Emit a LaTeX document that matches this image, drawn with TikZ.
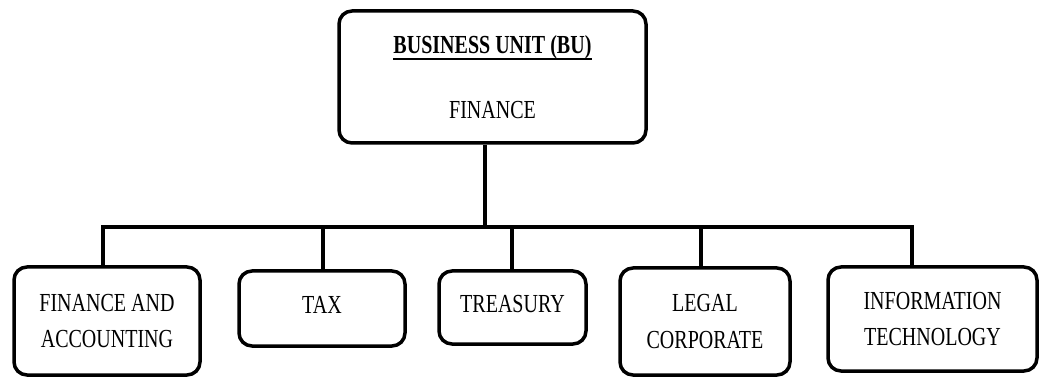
\documentclass[tikz,border=0pt]{standalone}
\usepackage{fontspec}
\setmainfont{Liberation Serif}[FakeStretch=0.77]
\usetikzlibrary{positioning}

\newcommand\unittitle[1]{\setbox0\hbox{#1}\rlap{\rule[-7pt]{\wd0}{2pt}}\box0}

\begin{document}
\begin{tikzpicture}[%
    x=1pt,
    y=-1pt,
    unit/.style={%
      draw,
      line width=3.5pt,
      rounded corners=13pt,
      align=center,
      inner sep=0pt,
      font=\fontsize{26}{36.5}\selectfont,
    },
    oneline/.style={text depth=8pt},
    link/.style={line width=3.5pt},
  ]
  \useasboundingbox (0,0) rectangle (1041,379);

  % head of the unit
  \node [unit, minimum width=307pt, minimum height=132pt] (bu) at (492.5,77)
    {\unittitle{\textbf{BUSINESS UNIT (BU)}}\\[28.5pt]FINANCE};

  % departments
  \node [unit, minimum width=186pt, minimum height=108pt] (accounting) at (107,321)
    {FINANCE AND\\ACCOUNTING};
  \node [unit, oneline, minimum width=166pt, minimum height=75pt] (tax) at (322,308.5)
    {TAX};
  \node [unit, oneline, minimum width=147pt, minimum height=73pt] (treasury) at (512.5,307.5)
    {TREASURY};
  \node [unit, minimum width=170pt, minimum height=107pt] (legal) at (705,321.5)
    {LEGAL\\CORPORATE};
  \node [unit, minimum width=209pt, minimum height=104pt] (it) at (932.5,319)
    {INFORMATION\\TECHNOLOGY};

  % tree lines
  \coordinate (hub) at (485,227);
  \coordinate (drop accounting) at (103,227);
  \coordinate (drop tax) at (323,227);
  \coordinate (drop treasury) at (512,227);
  \coordinate (drop legal) at (701,227);
  \coordinate (drop it) at (912,227);

  \draw [link] (bu.south -| hub) -- (hub);
  \draw [link] (accounting.north -| drop accounting) -- (drop accounting)
    -- (drop it) -- (it.north -| drop it);
  \foreach \dept in {tax,treasury,legal}
    \draw [link] (drop \dept) -- (\dept.north -| drop \dept);
\end{tikzpicture}
\end{document}
